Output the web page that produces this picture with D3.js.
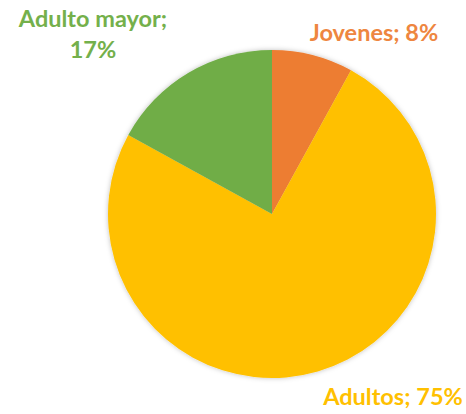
<!DOCTYPE html>
<html>
<head>
<meta charset="utf-8">
<script src="https://cdn.jsdelivr.net/npm/d3@7"></script>
<style>
  body { margin: 0; background: #fff; }
  svg { display: block; }
</style>
</head>
<body>
<svg id="chart"></svg>
<script>
const categories = ['Jovenes', 'Adultos', 'Adulto mayor'];
const values = [8, 75, 17];
const colors = ['#ED7D31', '#FFC000', '#70AD47'];
const labelColors = ['#EE8640', '#FFC000', '#74B04B'];

let svgWidth = 466, svgHeight = 414;
let cx = 272, cy = 214, radius = 164;

let svg = d3.select('#chart')
    .attr('width', svgWidth)
    .attr('height', svgHeight);

// soft shadow round the pie
let defs = svg.append('defs');
let filter = defs.append('filter').attr('id', 'shadow')
    .attr('x', '-10%').attr('y', '-10%').attr('width', '120%').attr('height', '120%');
filter.append('feDropShadow')
    .attr('dx', 0).attr('dy', 0)
    .attr('stdDeviation', 2.5)
    .attr('flood-color', '#000')
    .attr('flood-opacity', 0.25);

let data = categories.map(function (c, i) { return { name: c, value: values[i], color: colors[i], label: labelColors[i] }; });

let pie = d3.pie()
    .sort(null)
    .value(function (d) { return d.value; });

let arc = d3.arc()
    .innerRadius(0)
    .outerRadius(radius);

let g = svg.append('g')
    .attr('transform', 'translate(' + cx + ',' + cy + ')');

g.append('g')
    .attr('filter', 'url(#shadow)')
    .selectAll('path')
    .data(pie(data))
    .enter()
    .append('path')
    .attr('fill', function (d) { return d.data.color; })
    .attr('d', arc);

// labels, placed as in the original
let labelPos = {
    'Jovenes': { x: 374, y: [41], anchor: 'middle' },
    'Adultos': { x: 393, y: [405], anchor: 'middle' },
    'Adulto mayor': { x: 93, y: [27, 58], anchor: 'middle' }
};

data.forEach(function (d) {
    let p = labelPos[d.name];
    let lines = p.y.length > 1 ? [d.name + ';', d.value + '%'] : [d.name + '; ' + d.value + '%'];
    let t = svg.append('text')
        .attr('text-anchor', p.anchor)
        .attr('fill', d.label)
        .style('font-family', 'Lato, "Open Sans", sans-serif')
        .style('font-weight', 'bold')
        .style('font-size', '23.5px');
    lines.forEach(function (l, i) {
        t.append('tspan').attr('x', p.x).attr('y', p.y[i]).text(l);
    });
});
</script>
</body>
</html>
